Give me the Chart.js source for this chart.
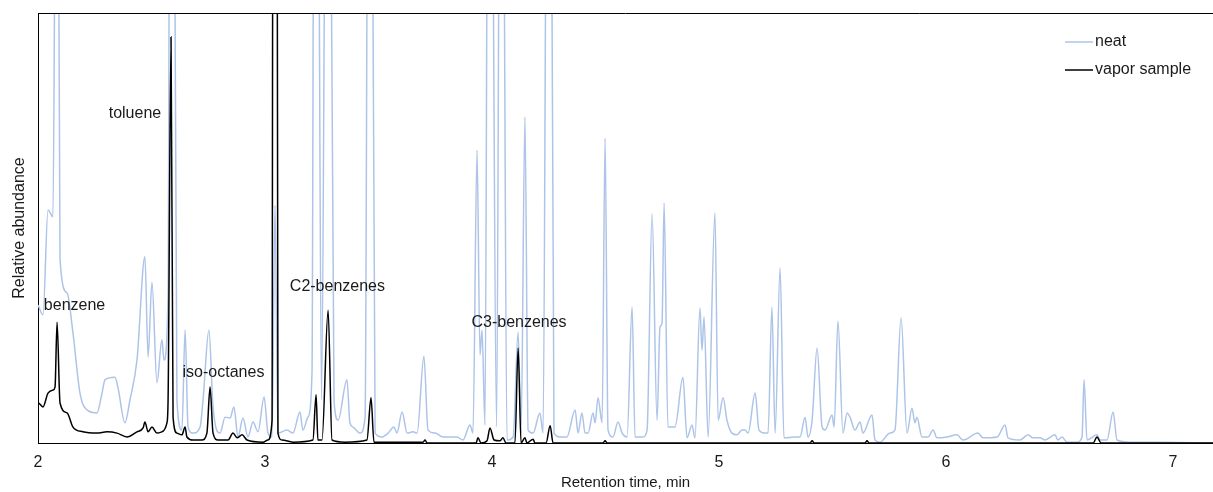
<!DOCTYPE html>
<html>
<head>
<meta charset="utf-8">
<script src="https://cdn.jsdelivr.net/npm/chart.js@4"></script>
<style>
  html, body { margin: 0; padding: 0; background: #fff; }
  #wrap { width: 1213px; height: 492px; }
</style>
</head>
<body>
<div id="wrap"><canvas id="chart" width="1213" height="492"></canvas></div>
<script>
// retention time (min) and relative abundance (%)
// peaks that run off the top are given a flat top at 150
const neatTime = [
  2.000, 2.022, 2.044, 2.066, 2.079, 2.088, 2.097, 2.128, 2.154, 2.185, 2.216, 2.260, 2.282, 2.295, 2.339, 2.352,
  2.383, 2.405, 2.436, 2.471, 2.485, 2.502, 2.524, 2.546, 2.555, 2.573, 2.581, 2.599, 2.612, 2.634, 2.648,
  2.661, 2.683, 2.714, 2.727, 2.753, 2.771, 2.802, 2.824, 2.846, 2.863, 2.881, 2.903, 2.925, 2.947, 2.969,
  2.996, 3.013, 3.031, 3.044, 3.057, 3.097, 3.123, 3.154, 3.167, 3.189, 3.207, 3.216, 3.233, 3.249, 3.269, 3.287, 3.304,
  3.322, 3.361, 3.374, 3.388, 3.419, 3.441, 3.454, 3.471, 3.485, 3.515, 3.542, 3.568, 3.581, 3.604, 3.626, 3.652,
  3.670, 3.700, 3.718, 3.749, 3.784, 3.846, 3.872, 3.903, 3.916, 3.934, 3.947, 3.956, 3.969, 3.982, 3.998, 4.020,
  4.035, 4.048, 4.066, 4.093, 4.115, 4.128, 4.145, 4.159, 4.181, 4.211, 4.225, 4.242, 4.260, 4.273, 4.300, 4.330, 4.366,
  4.379, 4.396, 4.410, 4.423, 4.445, 4.454, 4.467, 4.485, 4.498, 4.511, 4.533, 4.555, 4.573, 4.595, 4.617,
  4.630, 4.665, 4.683, 4.705, 4.727, 4.740, 4.749, 4.758, 4.775, 4.806, 4.841, 4.859, 4.881, 4.894, 4.916,
  4.925, 4.934, 4.952, 4.982, 4.996, 5.018, 5.035, 5.057, 5.079, 5.101, 5.115, 5.128, 5.159, 5.176, 5.203,
  5.216, 5.233, 5.247, 5.269, 5.286, 5.335, 5.357, 5.379, 5.392, 5.410, 5.432, 5.454, 5.467, 5.498, 5.507,
  5.524, 5.546, 5.564, 5.577, 5.599, 5.621, 5.634, 5.674, 5.687, 5.709, 5.753, 5.775, 5.802, 5.828, 5.850,
  5.863, 5.872, 5.894, 5.921, 5.943, 5.960, 6.004, 6.048, 6.075, 6.141, 6.163, 6.225, 6.260, 6.273, 6.326,
  6.361, 6.383, 6.414, 6.436, 6.480, 6.493, 6.511, 6.533, 6.577, 6.599, 6.608, 6.621, 6.665, 6.678, 6.709,
  6.736, 6.753, 6.811, 6.956, 7.176
];
const neatAbundance = [
  32.1, 29.8, 54.2, 52.6, 150, 150, 42.6, 34.9, 25.6, 11.6, 7.7, 7.0, 11.6, 14.7, 15.3, 13.0,
  4.7, 10.0, 19.3, 43.3, 20.0, 37.4, 14.0, 24.0, 19.3, 34.9, 150, 150, 10.0, 3.0, 26.3,
  3.7, 2.3, 3.7, 10.0, 26.3, 8.4, 2.3, 6.0, 5.8, 8.4, 1.4, 5.8, 1.4, 4.9, 2.6,
  10.7, 2.3, 1.4, 55.3, 2.3, 3.0, 2.3, 7.2, 3.0, 6.0, 16.3, 150, 150, 10.0, 150, 150, 10.0,
  5.3, 14.7, 4.7, 3.7, 2.3, 6.0, 150, 150, 2.3, 1.4, 2.3, 3.7, 2.3, 7.2, 2.3, 2.6,
  2.3, 20.2, 3.0, 2.3, 1.4, 1.4, 0.7, 4.2, 2.3, 68.1, 20.5, 26.3, 4.2, 150, 150, 3.7,
  150, 150, 0.7, 1.4, 25.8, 2.3, 75.8, 3.0, 2.3, 7.0, 2.3, 150, 150, 2.3, 1.4, 1.4, 7.7,
  2.3, 7.0, 2.3, 2.3, 7.0, 4.7, 10.5, 4.7, 70.9, 3.0, 1.4, 4.9, 2.3, 1.4, 31.6,
  1.4, 1.4, 3.0, 53.3, 5.3, 27.0, 27.9, 55.8, 3.7, 3.7, 15.3, 1.2, 4.2, 1.2, 31.4,
  21.6, 29.3, 1.4, 53.5, 5.3, 10.5, 5.3, 2.3, 1.9, 3.0, 3.0, 2.3, 11.6, 3.0, 2.3,
  2.3, 31.6, 2.3, 40.7, 1.2, 1.4, 1.4, 6.0, 1.4, 5.3, 22.1, 3.7, 3.0, 6.5, 3.7,
  28.4, 2.3, 7.0, 6.0, 3.0, 4.9, 2.3, 6.5, 0.7, 0.2, 2.3, 3.0, 29.1, 2.3, 8.1,
  4.7, 6.0, 1.4, 1.4, 3.0, 1.2, 1.4, 1.9, 0.7, 2.3, 1.2, 1.4, 4.2, 1.2, 0.7,
  1.9, 1.2, 1.2, 0.7, 1.9, 0.7, 1.4, 0.2, 0.2, 1.4, 14.7, 0.7, 1.9, 0.7, 0.7,
  7.2, 0.7, 0.2, 0.2, 0
];
const vaporTime = [
  2.004, 2.022, 2.044, 2.066, 2.075, 2.084, 2.097, 2.128, 2.154, 2.198, 2.260, 2.304, 2.348, 2.392, 2.436,
  2.463, 2.471, 2.485, 2.502, 2.524, 2.546, 2.568, 2.573, 2.586, 2.595, 2.612, 2.634, 2.648, 2.656, 2.683,
  2.722, 2.744, 2.758, 2.771, 2.793, 2.837, 2.859, 2.877, 2.899, 2.921, 2.991, 3.013, 3.031, 3.035, 3.053, 3.057,
  3.075, 3.123, 3.211, 3.225, 3.233, 3.251, 3.278, 3.295, 3.352, 3.449, 3.467, 3.480, 3.696, 3.705, 3.714,
  3.930, 3.938, 3.952, 3.978, 3.991, 4.009, 4.035, 4.048, 4.062, 4.101, 4.115, 4.128, 4.145, 4.154, 4.181,
  4.189, 4.238, 4.256, 4.269, 4.489, 4.498, 4.507, 5.401, 5.410, 5.419, 5.643, 5.652, 5.661, 6.648, 6.665,
  6.683, 7.176
];
const vaporAbundance = [
  9.3, 8.4, 11.6, 12.3, 13.0, 28.1, 9.3, 7.0, 3.7, 2.6, 2.3, 2.6, 2.3, 1.4, 2.6,
  3.5, 4.9, 2.6, 3.7, 2.3, 2.6, 4.7, 10.0, 94.4, 6.0, 2.3, 1.9, 3.7, 1.4, 0.7,
  0.7, 2.3, 13.0, 2.3, 0.7, 0.7, 2.3, 1.2, 1.9, 0.7, 0.2, 0.7, 5.3, 150, 150, 2.3,
  0.7, 0.2, 0.7, 11.2, 0.7, 0.7, 30.9, 0.7, 0.2, 0.7, 10.5, 0.2, 0.2, 0.7, 0,
  0, 1.2, 0, 0.5, 3.5, 0.7, 0.5, 1.2, 0, 0, 22.1, 0, 1.2, 0, 0.9,
  0, 0, 4.0, 0, 0, 0.5, 0, 0, 0.5, 0, 0, 0.5, 0, 0, 1.4,
  0, 0
];

const seriesNames = ['neat', 'vapor sample'];
const xTicks = [2, 3, 4, 5, 6, 7];

// peak labels: text, retention time, abundance where the label sits
const peakLabels = ['benzene', 'toluene', 'iso-octanes', 'C2-benzenes', 'C3-benzenes'];
const peakLabelTime = [2.161, 2.427, 2.817, 3.319, 4.119];
const peakLabelAbundance = [31.9, 76.7, 16.3, 36.3, 27.9];

const neatColor = '#adc4e8';
const vaporColor = '#000000';
const textColor = '#1a1a1a';
const font = 'Liberation Sans, Arial, sans-serif';

const toPoints = (xs, ys) => xs.map((x, i) => ({ x: x, y: ys[i] }));

// frame line on top, peak names and the legend
const overlay = {
  id: 'overlay',
  afterDraw(chart) {
    const { ctx, chartArea, scales } = chart;
    ctx.save();
    ctx.strokeStyle = '#000';
    ctx.lineWidth = 1;
    ctx.beginPath();
    ctx.moveTo(chartArea.left, chartArea.top + 0.5);
    ctx.lineTo(chartArea.right, chartArea.top + 0.5);
    ctx.stroke();

    ctx.fillStyle = textColor;
    ctx.font = '16px ' + font;
    ctx.textAlign = 'center';
    ctx.textBaseline = 'middle';
    peakLabels.forEach((t, i) => {
      ctx.fillText(t, scales.x.getPixelForValue(peakLabelTime[i]), scales.y.getPixelForValue(peakLabelAbundance[i]));
    });

    // legend
    const lx = 1065, ly = 42, gap = 28;
    [neatColor, vaporColor].forEach((c, i) => {
      ctx.strokeStyle = c;
      ctx.lineWidth = 1.5;
      ctx.beginPath();
      ctx.moveTo(lx, ly + i * gap);
      ctx.lineTo(lx + 28, ly + i * gap);
      ctx.stroke();
      ctx.textAlign = 'left';
      ctx.fillText(seriesNames[i], lx + 30, ly + i * gap);
    });
    ctx.restore();
  }
};

new Chart(document.getElementById('chart'), {
  type: 'line',
  data: {
    datasets: [
      {
        label: seriesNames[0],
        data: toPoints(neatTime, neatAbundance),
        borderColor: neatColor,
        borderWidth: 1.5,
        pointRadius: 0,
        cubicInterpolationMode: 'monotone',
        order: 2
      },
      {
        label: seriesNames[1],
        data: toPoints(vaporTime, vaporAbundance),
        borderColor: vaporColor,
        borderWidth: 1.5,
        pointRadius: 0,
        cubicInterpolationMode: 'monotone',
        order: 1
      }
    ]
  },
  options: {
    responsive: false,
    animation: false,
    layout: { padding: { top: 13, right: 0, left: 0, bottom: 0 } },
    plugins: {
      legend: { display: false },
      tooltip: { enabled: false }
    },
    scales: {
      x: {
        type: 'linear',
        min: 2,
        max: 7.176,
        afterBuildTicks: (axis) => { axis.ticks = xTicks.map(v => ({ value: v })); },
        afterFit: (axis) => { axis.height = 49; },
        grid: { display: false, drawTicks: false },
        border: { display: true, color: '#000', width: 1 },
        ticks: { color: textColor, font: { family: font, size: 16 }, padding: 10, maxRotation: 0 },
        title: {
          display: true,
          text: 'Retention time, min',
          color: textColor,
          font: { family: font, size: 15 },
          padding: { top: 2, bottom: 0 }
        }
      },
      y: {
        min: 0,
        max: 100,
        afterFit: (axis) => { axis.width = 38; },
        grid: { display: false, drawTicks: false },
        border: { display: true, color: '#000', width: 1 },
        ticks: { display: false },
        title: {
          display: true,
          text: 'Relative abundance',
          color: textColor,
          font: { family: font, size: 16 },
          padding: { top: 10, bottom: 0 }
        }
      }
    }
  },
  plugins: [overlay]
});
</script>
</body>
</html>
